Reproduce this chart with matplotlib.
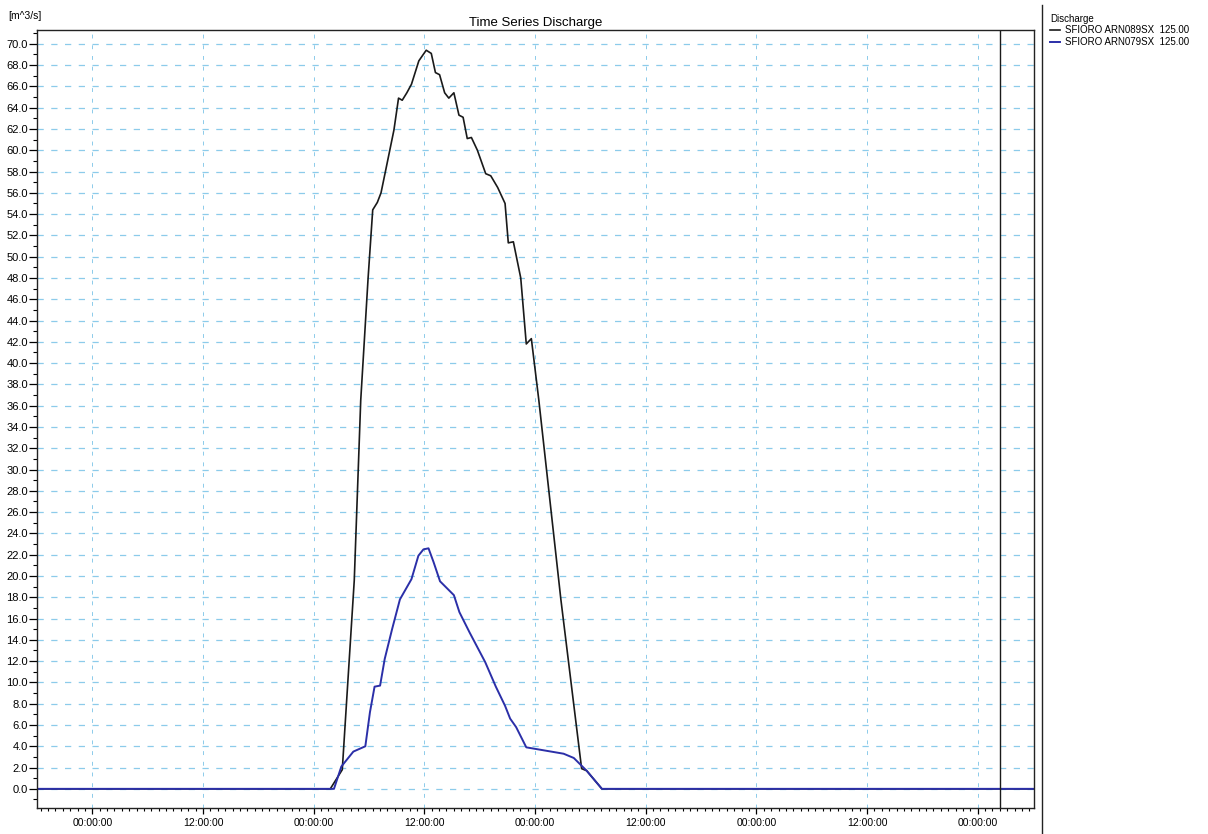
import matplotlib
matplotlib.use("Agg")
import matplotlib.pyplot as plt
from matplotlib.ticker import MultipleLocator, FuncFormatter
from matplotlib.lines import Line2D

plt.rcParams['font.family'] = ['Liberation Sans', 'DejaVu Sans']

# time in hours counted from the first midnight tick on the axis
hours_089 = [-6, 25.8, 27.1, 28.4, 29.1, 29.9, 30.4, 30.9, 31.3, 31.8, 32.7, 33.2, 33.6, 34.1,
             34.6, 35.4, 36.2, 36.75, 37.2, 37.65, 38.2, 38.65, 39.2, 39.75, 40.2, 40.65, 41.1,
             41.75, 42.65, 43.2, 43.95, 44.75, 45.1, 45.65, 46.45, 47.05, 47.6, 48.4, 50.8,
             53.05, 53.6, 55.25, 102.1]
flow_089 = [0, 0, 1.8, 19.6, 36.5, 48.0, 54.4, 55.1, 56.0, 58.1, 61.9, 64.9, 64.7, 65.4,
            66.2, 68.4, 69.4, 69.1, 67.3, 67.1, 65.4, 64.9, 65.4, 63.3, 63.1, 61.1, 61.2,
            60.0, 57.8, 57.6, 56.5, 55.0, 51.3, 51.4, 48.0, 41.8, 42.3, 36.6, 17.8,
            1.9, 1.7, 0, 0]

hours_079 = [-6, 26.2, 27.0, 28.3, 29.6, 30.1, 30.6, 31.2, 31.7, 32.5, 33.35, 34.6, 35.35,
             35.9, 36.45, 37.0, 37.7, 39.2, 39.8, 40.9, 42.6, 43.75, 44.75, 45.3, 45.95,
             47.05, 51.1, 52.2, 53.6, 55.25, 102.1]
flow_079 = [0, 0, 2.1, 3.5, 4.0, 7.2, 9.6, 9.7, 12.2, 15.0, 17.8, 19.7, 21.9,
            22.5, 22.6, 21.3, 19.5, 18.2, 16.6, 14.7, 11.9, 9.6, 7.8, 6.6, 5.8,
            3.9, 3.3, 2.9, 1.7, 0, 0]

labels = ["SFIORO ARN089SX  125.00", "SFIORO ARN079SX  125.00"]
now_hour = 98.4

W, H = 1208, 834
fig = plt.figure(figsize=(W / 100, H / 100), dpi=100)
ax = fig.add_axes([37 / W, 1 - 808 / H, (1034 - 37) / W, (808 - 30) / H])

grid_color = '#8ccbea'
ax.set_axisbelow(True)
ax.grid(True, which='major', axis='y', color=grid_color, linestyle=(0, (5, 6)), linewidth=0.9)
ax.grid(True, which='major', axis='x', color=grid_color, linestyle=(0, (4, 7)), linewidth=0.7)

l1, = ax.plot(hours_089, flow_089, color='#1a1a1a', linewidth=1.2)
l2, = ax.plot(hours_079, flow_079, color='#2b2fa8', linewidth=1.4)
ax.axvline(now_hour, color='#1a1a1a', linewidth=1.0)

ax.set_xlim(-6, 102.1)
ax.set_ylim(-1.8, 71.3)

ax.yaxis.set_major_locator(MultipleLocator(2))
ax.yaxis.set_minor_locator(MultipleLocator(1))
ax.yaxis.set_major_formatter(FuncFormatter(lambda v, p: f"{v:.1f}"))
ax.xaxis.set_major_locator(MultipleLocator(12))
ax.xaxis.set_minor_locator(MultipleLocator(0.8))
ax.xaxis.set_major_formatter(FuncFormatter(lambda h, p: f"{int(round(h)) % 24:02d}:00:00"))

ax.tick_params(axis='y', which='major', length=5.5, width=0.9, labelsize=8, pad=1)
ax.tick_params(axis='y', which='minor', length=3, width=0.8)
ax.tick_params(axis='x', which='major', length=4.5, width=0.9, labelsize=7.5, pad=2.5)
ax.tick_params(axis='x', which='minor', length=2.5, width=0.8)
for s in ax.spines.values():
    s.set_linewidth(1.0)
    s.set_color('#222222')

ax.set_title("Time Series Discharge", fontsize=9.5, pad=3)
fig.text(8 / W, 1 - 16 / H, "[m^3/s]", fontsize=7.5, va='center', ha='left')

fig.add_artist(Line2D([1042 / W, 1042 / W], [0, 1 - 5 / H], transform=fig.transFigure,
                      color='#222222', linewidth=1.0))

fig.legend([l1, l2], labels, title="Discharge", loc='upper left',
           bbox_to_anchor=(1050 / W, 1 - 14 / H), frameon=False, fontsize=7,
           title_fontsize=7, handlelength=1.0, handletextpad=0.5, labelspacing=0.15,
           borderpad=0, borderaxespad=0, alignment='left')

fig.savefig("out.png", dpi=100)
